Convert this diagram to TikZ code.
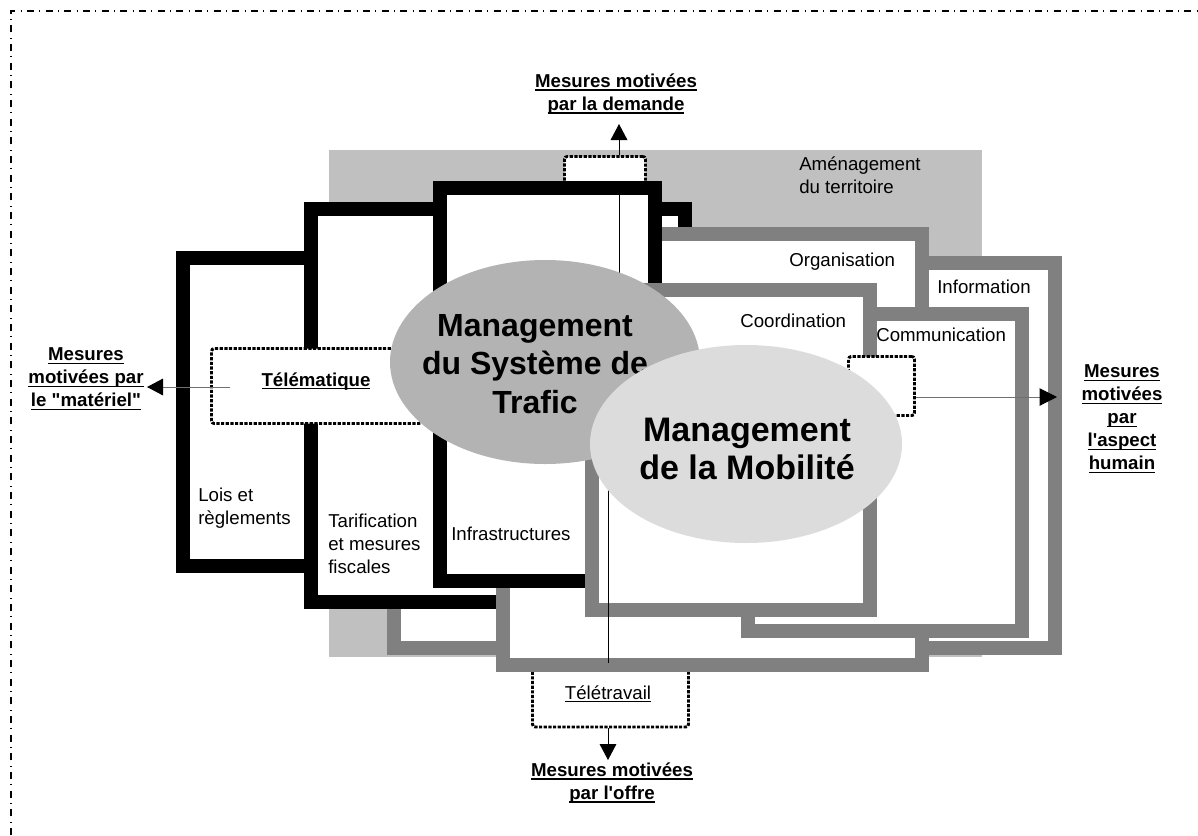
\documentclass[tikz,border=0pt]{standalone}
\usepackage{fontspec}
\setmainfont{Liberation Sans}[Ligatures=TeXOff]
\usetikzlibrary{arrows.meta,calc}
\definecolor{amgray}{HTML}{C0C0C0}
\definecolor{dkgray}{HTML}{808080}
\definecolor{mstgray}{HTML}{B3B3B3}
\definecolor{mmgray}{HTML}{DCDCDC}
\definecolor{linegray}{HTML}{707070}
\newsavebox{\ulbox}
\newcommand{\ulx}[1]{\sbox{\ulbox}{#1}\rlap{\rule[-2.4pt]{\wd\ulbox}{0.9pt}}\usebox{\ulbox}}
\newcommand{\frbox}[5]{\fill[#1] (#2,#3) rectangle (#4,#5); \fill[white] ({#2+14},{#3+14}) rectangle ({#4-14},{#5-14});}
\tikzset{
  lbl/.style={inner sep=0pt, font=\fontsize{14}{17.25}\selectfont},
  blbl/.style={inner sep=0pt, align=center, font=\fontsize{14}{17.25}\selectfont\bfseries},
  dotbox/.style={draw=black, fill=white, line width=2.2pt, dash pattern=on 2.4pt off 1.1pt, rounded corners=2pt, inner sep=0pt},
  arr/.style={-{Triangle[length=12pt,width=12.5pt]}},
  thin/.style={line width=0.75pt},
  bigtxt/.style={inner sep=0pt, align=center, font=\fontsize{24}{28.9}\selectfont\bfseries},
}
\begin{document}
\begin{tikzpicture}[x=0.75pt,y=-0.75pt]
\useasboundingbox (0,0) rectangle (1198,835);
% outer dash-dot frame
\draw[line width=1.1pt, dash pattern=on 5.2pt off 4pt on 0.8pt off 4pt] (11,835) -- (11,11) -- (1198,11);
% land use background
\fill[amgray] (329,150) rectangle (982,657);
\node[lbl, anchor=north west, align=left] (amen) at (799,156) {Aménagement\\du territoire};
% dotted box top (demande)
\node[dotbox, minimum width={81*0.75pt}, minimum height={30*0.75pt}] (dem) at (605,171.5) {};
% boxes
\frbox{black}{176}{251}{430}{573}
\frbox{dkgray}{387}{256}{1062}{655}
\frbox{black}{304}{202}{692}{609}
\node[dotbox, minimum width={156*0.75pt}, minimum height={62*0.75pt}] (tt) at (610.5,696) {};
\frbox{dkgray}{496}{227}{929}{672}
\frbox{black}{433}{181}{662}{588}
\frbox{dkgray}{741}{307}{1029}{638}
\frbox{dkgray}{585}{283}{877}{617}
% box labels
\node[lbl, anchor=base west] (org) at (789,266) {Organisation};
\node[lbl, anchor=base west] (coord) at (740,327) {Coordination};
\node[lbl, anchor=base west] (info) at (937,293) {Information};
\node[lbl, anchor=base west] (comm) at (876,341) {Communication};
\node[lbl, anchor=north west, align=left] (lois) at (198,488) {Lois et\\règlements};
\node[lbl, anchor=north west, align=left] (tarif) at (328,514) {Tarification\\et mesures\\fiscales};
\node[lbl, anchor=base west] (infra) at (451,540) {Infrastructures};
\node[lbl, anchor=base] (ttText) at (608,699) {\ulx{Télétravail}};
% thin lines through the boxes
\coordinate (topIn) at (619,195);
\coordinate (topEll) at (619,320);
\draw[thin] (topIn) -- (topEll);
\coordinate (botEll) at (608,470);
\coordinate (botIn) at (608,663);
\draw[thin] (botEll) -- (botIn);
% dotted boxes
\node[dotbox, minimum width={210*0.75pt}, minimum height={75*0.75pt}] (tele) at (316.5,386) {};
\node[blbl, anchor=base] (teleText) at (316,386) {\ulx{Télématique}};
\node[dotbox, minimum width={66*0.75pt}, minimum height={59*0.75pt}] (hum) at (881.5,386) {};
% ellipses
\fill[mstgray] (545,362) ellipse [x radius=155, y radius=102];
\node[bigtxt] (mst) at (535,364) {Management\\du Système de\\Trafic};
\fill[mmgray] (746,444) ellipse [x radius=156, y radius=99];
\node[bigtxt, font=\fontsize{25.5}{28.5}\selectfont\bfseries] (mm) at (747,449) {Management\\de la Mobilité};
% outer labels
\node[blbl] (labDem) at (616,94) {\ulx{Mesures motivées}\\\ulx{par la demande}};
\node[blbl] (labMat) at (86,379) {\ulx{Mesures}\\\ulx{motivées par}\\\ulx{le "matériel"}};
\node[blbl] (labHum) at (1122,419) {\ulx{Mesures}\\\ulx{motivées}\\\ulx{par}\\\ulx{l'aspect}\\\ulx{humain}};
\node[blbl] (labOff) at (612,783) {\ulx{Mesures motivées}\\\ulx{par l'offre}};
% arrows
\coordinate (demTip) at (619,124);
\draw[thin, arr] (dem.north -| demTip) -- (demTip);
\coordinate (matStart) at (230,387);
\coordinate (matTip) at (147,387);
\draw[thin, draw=linegray, -{Triangle[length=12pt,width=12.5pt,fill=black,color=black]}] (matStart) -- (matTip);
\coordinate (humTip) at (1057,397);
\draw[thin, draw=linegray, -{Triangle[length=13pt,width=13pt,fill=black,color=black]}] (hum.east |- humTip) -- (humTip);
\coordinate (offTip) at (608,760);
\draw[thin, arr] (tt.south -| offTip) -- (offTip);
\end{tikzpicture}
\end{document}
